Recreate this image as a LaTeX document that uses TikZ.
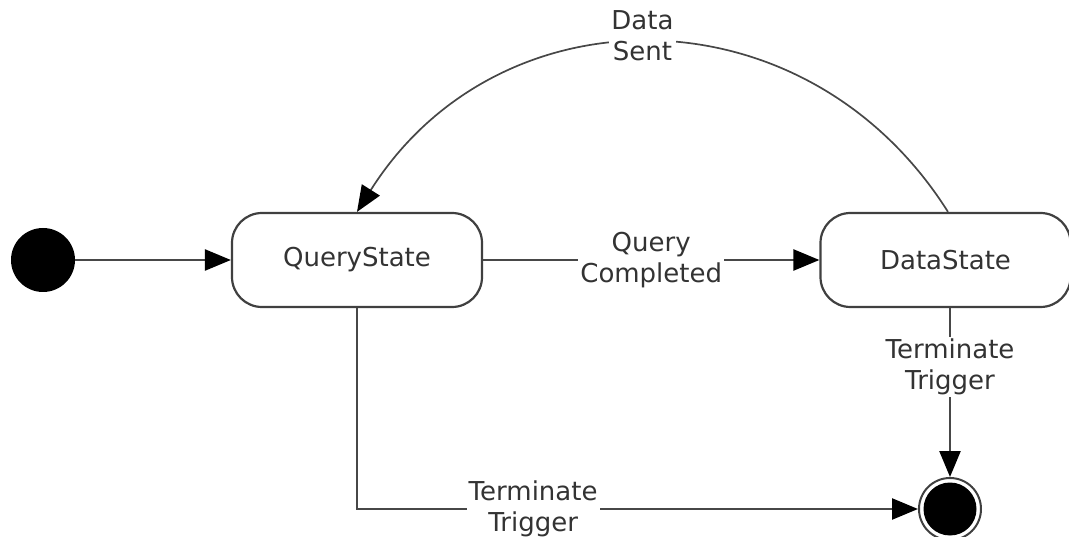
\documentclass[tikz,border=0pt]{standalone}
\usepackage{fontspec}
\setmainfont{DejaVu Sans}
\usetikzlibrary{arrows.meta}
\begin{document}
\begin{tikzpicture}[x=1pt,y=-1pt,
  txt/.style={text=black!80, font=\fontsize{26}{31}\selectfont},
  state/.style={draw=black!75, line width=2.2pt, rounded corners=30pt, minimum width=250pt, minimum height=94pt, txt, inner sep=0pt},
  conn/.style={draw=black!72, line width=2.4pt, -{Triangle[length=26pt,width=21pt,color=black]}},
  thinconn/.style={conn, line width=1.7pt},
  lbl/.style={txt, fill=white, align=center, inner sep=2pt},
]
\useasboundingbox (0,0) rectangle (1069,537);
\node[circle, fill=black, minimum size=64pt, inner sep=0pt] (init) at (43,260) {};
\node[state] (qs) at (357,260) {QueryState};
\node[state] (ds) at (945.5,260) {DataState};
\node[circle, draw=black!75, line width=2pt, minimum size=62pt, inner sep=0pt] (fin) at (950,509) {};
\fill[black] (fin.center) circle (26.5);
\draw[conn] (init) -- (qs);
\draw[conn] (qs) -- node[lbl]{Query\\Completed} (ds);
\draw[conn] (qs.south) |- node[lbl, pos=0.657]{Terminate\\Trigger} (fin.west);
\draw[conn] (ds.south -| fin) -- node[lbl, pos=0.35]{Terminate\\Trigger} (fin.north);
\draw[thinconn] ([xshift=2.5pt]ds.north) .. controls +(-142,-225) and +(142,-225) .. node[lbl, pos=0.5, xshift=-10pt, yshift=7pt]{Data\\Sent} (qs.north);
\end{tikzpicture}
\end{document}
